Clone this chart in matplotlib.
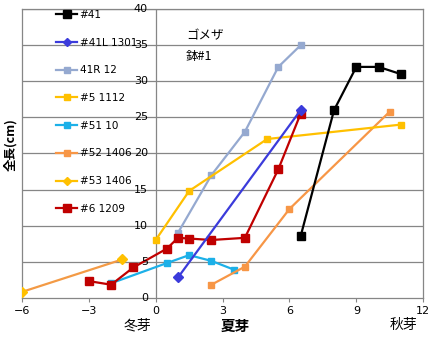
import matplotlib.pyplot as plt
from matplotlib.lines import Line2D

plt.rcParams['font.family'] = ['DejaVu Sans', 'Noto Sans CJK JP']

# growth series: month offset vs total length (cm)
s41_x = [6.5, 8, 9, 10, 11]
s41_y = [8.5, 26, 32, 32, 31]
s41l_x = [1, 6.5]
s41l_y = [2.8, 26]
s41r_x = [1, 2.5, 4, 5.5, 6.5]
s41r_y = [9, 17, 23, 32, 35]
s5_x = [0, 1.5, 5, 11]
s5_y = [8, 14.8, 22, 24]
s51_x = [-2, 0.5, 1.5, 2.5, 3.5]
s51_y = [2, 4.8, 5.9, 5.1, 3.9]
s52_x = [2.5, 4, 6, 10.5]
s52_y = [1.8, 4.3, 12.3, 25.8]
s53_x = [-6, -1.5]
s53_y = [0.8, 5.3]
s6_x = [-3, -2, -1, 0.5, 1, 1.5, 2.5, 4, 5.5, 6.5]
s6_y = [2.3, 1.8, 4.2, 6.8, 8.3, 8.2, 8.0, 8.3, 17.8, 25.5]

names = ['#41', '#41L 1301', '41R 12', '#5 1112', '#51 10', '#52 1406', '#53 1406', '#6 1209']
xticks = [-6, -3, 0, 3, 6, 9, 12]
yticks = [0, 5, 10, 15, 20, 25, 30, 35, 40]

fig = plt.figure(figsize=(4.39, 3.41), dpi=100)
ax = fig.add_axes([0.050, 0.127, 0.914, 0.846])

grid_c = '#868686'
for y in yticks[1:]:
    ax.axhline(y, color=grid_c, lw=0.9, zorder=0)
ax.axvline(0, color=grid_c, lw=0.9, zorder=0)

series = [
    (s51_x, s51_y, '#1CB0E8', 's', '#1CB0E8', 5),
    (s53_x, s53_y, '#F39A45', 'D', '#FFC000', 5),
    (s52_x, s52_y, '#F79646', 's', '#F79646', 5),
    (s41r_x, s41r_y, '#95A9D0', 's', '#95A9D0', 5),
    (s5_x, s5_y, '#FFC000', 's', '#FFC000', 5),
    (s6_x, s6_y, '#C00000', 's', '#C00000', 6),
    (s41l_x, s41l_y, '#3B3BDB', 'D', '#3B3BDB', 5),
    (s41_x, s41_y, '#000000', 's', '#000000', 6),
]
for x, y, lc, m, mc, ms in series:
    ax.plot(x, y, color=lc, lw=1.6, marker=m, ms=ms, mfc=mc, mec=mc, zorder=3)

ax.set_xlim(-6, 12)
ax.set_ylim(0, 40)
ax.set_xticks(xticks)
ax.set_xticklabels([str(t).replace('-', '\u2212') for t in xticks], fontsize=8)
ax.tick_params(axis='x', length=3, color=grid_c, pad=3)
ax.set_yticks([])
for y in yticks:
    ax.text(-0.35, y, str(y), ha='right', va='center', fontsize=8, zorder=5)
for sp in ax.spines.values():
    sp.set_color(grid_c)
    sp.set_linewidth(0.9)

# legend drawn as proxy entries down the left side
handles = [
    Line2D([], [], color='#000000', lw=1.6, marker='s', ms=5.5),
    Line2D([], [], color='#3B3BDB', lw=1.6, marker='D', ms=4.5),
    Line2D([], [], color='#95A9D0', lw=1.6, marker='s', ms=5),
    Line2D([], [], color='#FFC000', lw=1.6, marker='s', ms=5),
    Line2D([], [], color='#1CB0E8', lw=1.6, marker='s', ms=5),
    Line2D([], [], color='#F79646', lw=1.6, marker='s', ms=5),
    Line2D([], [], color='#FFC000', lw=1.6, marker='D', ms=4.5),
    Line2D([], [], color='#C00000', lw=1.6, marker='s', ms=5.5),
]
leg = ax.legend(handles, names, loc='upper left', bbox_to_anchor=(0.075, 1.012),
                frameon=False, fontsize=7.5, labelspacing=1.7, handlelength=2.0,
                handletextpad=0.25, borderaxespad=0)
leg.set_zorder(6)

ax.text(1.35, 35.8, 'ゴメザ', fontsize=9, family=['Noto Sans CJK JP'])
ax.text(1.35, 33.0, '鉢#1', fontsize=9, family=['Noto Sans CJK JP'])

fig.text(0.314, 0.045, '冬芽', fontsize=10, family=['Noto Sans CJK JP'], ha='center', va='center')
fig.text(0.535, 0.045, '夏芽', fontsize=10.5, fontweight='bold', family=['Noto Sans CJK JP'], ha='center', va='center')
fig.text(0.92, 0.047, '秋芽', fontsize=10, family=['Noto Sans CJK JP'], ha='center', va='center')
fig.text(0.025, 0.575, '全長(cm)', fontsize=9, fontweight='bold', rotation=90,
         family=['Noto Sans CJK JP'], ha='center', va='center')

fig.savefig('out.png', dpi=100)
